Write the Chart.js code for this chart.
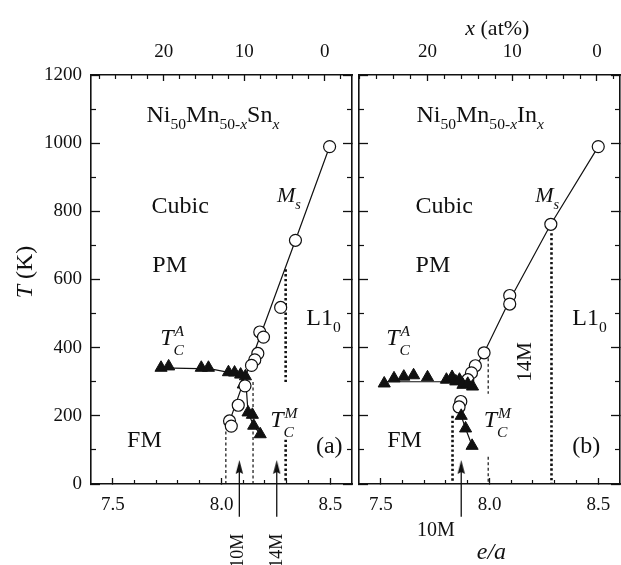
<!DOCTYPE html>
<html><head><meta charset="utf-8">
<style>
html,body{margin:0;padding:0;background:#fff;overflow:hidden;width:621px;height:565px;position:relative;}
canvas{position:absolute;top:0;}
#cA{left:0;}
#cB{left:349px;}
</style>
<script src="https://cdn.jsdelivr.net/npm/chart.js@4"></script>
</head><body>
<canvas id="cA" width="360" height="565"></canvas>
<canvas id="cB" width="279" height="565"></canvas>
<script>
// ---------- data ----------
const eaMin = 7.4, eaMax = 8.6;
const tMin = 0, tMax = 1200;
const eaMajorTicks = [7.5, 8.0, 8.5];
const eaMinorTicks = [7.6, 7.7, 7.8, 7.9, 8.1, 8.2, 8.3, 8.4];
const tMajorTicks = [0, 200, 400, 600, 800, 1000, 1200];
const tMinorTicks = [100, 300, 500, 700, 900, 1100];
const atMajorTicks = [0, 10, 20];
const atMinorTicks = [-2, 2, 4, 6, 8, 12, 14, 16, 18, 22, 24, 26, 28];
const snAtRange = [-3.39, 29.04];
const inAtRange = [-2.72, 28.08];

// Ni50Mn50-xSnx
const snMs = [[8.497,990],[8.34,715],[8.272,518],[8.176,446],[8.193,431],[8.167,383],[8.153,364],[8.138,348],[8.108,288],[8.077,231],[8.037,185],[8.045,170]];
const snMsLine = [[8.497,990],[8.34,715],[8.126,344],[8.035,180]];
const snTcA = [[7.722,341],[7.757,345],[7.907,341],[7.94,341],[8.032,328],[8.06,327],[8.088,321],[8.11,316]];
const snTcALine = [[7.722,341],[7.95,338],[8.11,318]];
const snTcM = [[8.1,292],[8.122,210],[8.142,203],[8.148,171],[8.178,146]];
const snTcMLine = [[8.11,318],[8.122,210],[8.148,171],[8.178,146]];
const snThinGuides = [[[8.02,0],[8.02,156]], [[8.145,0],[8.145,305]]];
const snBoldGuides = [[[8.295,630],[8.295,295]], [[8.295,130],[8.295,0]]];
const snArrowX = [8.082, 8.254];

// Ni50Mn50-xInx
const inMs = [[8.5,990],[8.282,762],[8.093,553],[8.093,528],[7.975,385],[7.935,347],[7.917,326],[7.9,306],[7.868,242],[7.86,226]];
const inMsLine = [[8.5,990],[8.282,762],[8.093,540],[7.975,385],[7.9,306]];
const inTcA = [[7.516,295],[7.561,310],[7.606,315],[7.651,319],[7.715,313],[7.802,306],[7.828,314],[7.845,301],[7.862,306],[7.878,291],[7.9,294],[7.922,286]];
const inTcALine = [[7.516,300],[7.93,300]];
const inTcM = [[7.87,200],[7.89,163],[7.92,112]];
const inTcMLine = [[7.86,245],[7.87,200],[7.89,163],[7.92,112]];
const inThinGuides = [[[7.994,385],[7.994,265]], [[7.994,80],[7.994,0]]];
const inBoldGuides = [[[7.83,200],[7.83,0]], [[8.285,736],[8.285,0]]];
const inArrowX = [7.87];

const arrowY = [-96, 50];

// ---------- annotations ----------
const FONT = 'Liberation Serif';
const INK = '#111';
Chart.defaults.font.family = FONT;
const formulaSn = [['Ni','r'],['50','sub'],['Mn','r'],['50-','sub'],['x','subi'],['Sn','r'],['x','subi']];
const formulaIn = [['Ni','r'],['50','sub'],['Mn','r'],['50-','sub'],['x','subi'],['In','r'],['x','subi']];
const snTexts = [
  {x:7.655, y:1062, size:24, runs:formulaSn},
  {x:7.678, y:795, size:24, runs:[['Cubic','r']]},
  {x:7.682, y:622, size:24, runs:[['PM','r']]},
  {x:8.255, y:826, size:22, runs:[['M','i'],['s','subi']]},
  {x:8.39, y:466, size:24, runs:[['L1','r'],['0','sub']]},
  {x:7.718, y:408, size:24, runs:[['T','i'],[['A','C'],'ss']]},
  {x:7.566, y:109, size:24, runs:[['FM','r']]},
  {x:8.224, y:167, size:24, runs:[['T','i'],[['M','C'],'ss']]},
  {x:8.434, y:91, size:24, runs:[['(a)','r']]},
  {x:8.072, y:-196, size:18, rot:-90, center:true, runs:[['10M','r']]},
  {x:8.251, y:-196, size:18, rot:-90, center:true, runs:[['14M','r']]},
  {x:7.091, y:622, size:24, rot:-90, center:true, runs:[['T','i'],[' (K)','r']]}
];
const inTexts = [
  {x:7.664, y:1062, size:24, runs:formulaIn},
  {x:7.66, y:795, size:24, runs:[['Cubic','r']]},
  {x:7.66, y:622, size:24, runs:[['PM','r']]},
  {x:8.21, y:826, size:22, runs:[['M','i'],['s','subi']]},
  {x:8.381, y:466, size:24, runs:[['L1','r'],['0','sub']]},
  {x:7.525, y:408, size:24, runs:[['T','i'],[['A','C'],'ss']]},
  {x:7.53, y:109, size:24, runs:[['FM','r']]},
  {x:7.973, y:167, size:24, runs:[['T','i'],[['M','C'],'ss']]},
  {x:8.381, y:91, size:24, runs:[['(b)','r']]},
  {x:8.161, y:358, size:21, rot:-90, center:true, runs:[['14M','r']]},
  {x:7.754, y:-132, size:20, center:true, runs:[['10M','r']]},
  {x:8.009, y:-197, size:24, center:true, runs:[['e/a','i']]},
  {x:8.036, y:1338, size:22, center:true, runs:[['x','i'],[' (at%)','r']]}
];

// ---------- helpers ----------
function fnt(it, sz){ return (it ? 'italic ' : '') + sz + 'px "' + FONT + '"'; }
function layoutRuns(ctx, runs, size){
  const items = []; let w = 0; const sm = size * 0.65;
  for (const [t, s] of runs) {
    if (s === 'ss') {
      const f = fnt(true, sm); ctx.font = f;
      const w1 = ctx.measureText(t[0]).width, w2 = ctx.measureText(t[1]).width;
      items.push({t:t[0], f, x:w+1, dy:-size*0.36});
      items.push({t:t[1], f, x:w, dy:size*0.42});
      w += Math.max(w1, w2) + 1;
    } else {
      const small = s.startsWith('sub') || s.startsWith('sup');
      const it = s === 'i' || s.endsWith('i');
      const f = fnt(it, small ? sm : size); ctx.font = f;
      const dy = s.startsWith('sub') ? size*0.3 : (s.startsWith('sup') ? -size*0.36 : 0);
      items.push({t, f, x:w, dy});
      w += ctx.measureText(t).width;
    }
  }
  return {items, w};
}
const textPlugin = {
  id: 'texts',
  afterDraw(chart, args, opts) {
    const ctx = chart.ctx, xs = chart.scales.x, ys = chart.scales.y;
    ctx.save();
    ctx.fillStyle = INK; ctx.textBaseline = 'alphabetic'; ctx.textAlign = 'left';
    for (const L of opts.items) {
      const px = xs.getPixelForValue(L.x), py = ys.getPixelForValue(L.y);
      const {items, w} = layoutRuns(ctx, L.runs, L.size);
      ctx.save();
      ctx.translate(px, py);
      if (L.rot) ctx.rotate(L.rot * Math.PI / 180);
      const ox = L.center ? -w/2 : 0, oy = L.center ? L.size*0.33 : 0;
      for (const it of items) { ctx.font = it.f; ctx.fillText(it.t, ox + it.x, oy + it.dy); }
      ctx.restore();
    }
    ctx.restore();
  }
};
function arrowHead(){
  const c = document.createElement('canvas'); c.width = 9; c.height = 14;
  const g = c.getContext('2d'); g.fillStyle = INK;
  g.beginPath(); g.moveTo(4.5,0); g.lineTo(8.2,14); g.lineTo(4.5,12); g.lineTo(0.8,14); g.closePath(); g.fill();
  return c;
}
const AH = arrowHead();
const pts = a => a.map(([x,y]) => ({x, y}));
const tickSet = vals => axis => { axis.ticks = vals.map(v => ({value: v})); };

function axisPair(pos, min, max, majors, minors, size, majLen, minLen, labels, padding, reverse, cb){
  const base = {type:'linear', position:pos, min, max, bounds:'data', reverse:!!reverse};
  const major = Object.assign({}, base, {
    weight: 0,
    afterBuildTicks: tickSet(majors),
    afterFit: a => { if (a.isHorizontal()) a.height = size; else a.width = size; },
    ticks: {display: labels, color: INK, padding, autoSkip:false, maxRotation:0, font:{family:FONT, size:19}, callback: cb},
    grid: {display:true, drawOnChartArea:false, drawTicks:true, tickLength:-majLen, tickColor:INK, tickWidth:1.3},
    border: {display:true, color:INK, width:1.6}
  });
  const minor = Object.assign({}, base, {
    weight: -1,
    afterBuildTicks: tickSet(minors),
    afterFit: a => { if (a.isHorizontal()) a.height = 0; else a.width = 0; },
    ticks: {display:false},
    grid: {display:true, drawOnChartArea:false, drawTicks:true, tickLength:-minLen, tickColor:INK, tickWidth:1.2},
    border: {display:false}
  });
  return [major, minor];
}

function build(id, cfg){
  const [x, xm] = axisPair('bottom', eaMin, eaMax, eaMajorTicks, eaMinorTicks, 81, 6, 4, true, 16, false, v => Number(v).toFixed(1));
  const [xt, xtm] = axisPair('top', cfg.at[0], cfg.at[1], atMajorTicks, atMinorTicks, 75, 6, 4, true, 18, true, v => String(v));
  const [y, ym] = axisPair('left', tMin, tMax, tMajorTicks, tMinorTicks, cfg.leftW, 9, 5, cfg.yLabels, 18, false, v => String(v));
  const [y2, y2m] = axisPair('right', tMin, tMax, tMajorTicks, tMinorTicks, 1, 9, 5, false, 0, false, v => String(v));
  const circ = d => ({data:pts(d), showLine:false, pointStyle:'circle', pointRadius:6, pointBorderWidth:1.2, pointBackgroundColor:'#fff', pointBorderColor:INK});
  const tri = d => ({data:pts(d), showLine:false, pointStyle:'triangle', pointRadius:7, pointBorderWidth:1, pointBackgroundColor:INK, pointBorderColor:INK});
  const line = d => ({data:pts(d), showLine:true, borderColor:INK, borderWidth:1.2, pointRadius:0, fill:false});
  const thin = d => ({data:pts(d), showLine:true, borderColor:INK, borderWidth:1.2, borderDash:[3,2.5], pointRadius:0, fill:false});
  const bold = d => ({data:pts(d), showLine:true, borderColor:INK, borderWidth:2.6, borderDash:[2.4,2.4], pointRadius:0, fill:false});
  const arrow = xv => ({data:[{x:xv, y:arrowY[0]}, {x:xv, y:arrowY[1]}], showLine:true, borderColor:INK, borderWidth:1.3, pointRadius:[0,5], pointStyle:AH, pointBorderWidth:0, clip:false});
  const marks = cfg.triOnTop
    ? [tri(cfg.tcA), tri(cfg.tcM), circ(cfg.ms)]
    : [circ(cfg.ms), tri(cfg.tcA), tri(cfg.tcM)];
  const datasets = [
    ...marks,
    line(cfg.msLine), line(cfg.tcALine), line(cfg.tcMLine),
    ...cfg.thin.map(thin), ...cfg.bold.map(bold),
    ...cfg.arrows.map(arrow)
  ];
  return new Chart(document.getElementById(id), {
    type: 'scatter',
    data: {datasets},
    options: {
      responsive:false, animation:false, events:[],
      layout:{padding:0},
      plugins:{legend:{display:false}, tooltip:{enabled:false}, texts:{items:cfg.texts}},
      scales:{x, xm, xt, xtm, y, ym, y2, y2m}
    },
    plugins:[textPlugin]
  });
}

build('cA', {at:snAtRange, leftW:91, yLabels:true, triOnTop:false,
  ms:snMs, msLine:snMsLine, tcA:snTcA, tcALine:snTcALine, tcM:snTcM, tcMLine:snTcMLine,
  thin:snThinGuides, bold:snBoldGuides, arrows:snArrowX, texts:snTexts});
build('cB', {at:inAtRange, leftW:10, yLabels:false, triOnTop:true,
  ms:inMs, msLine:inMsLine, tcA:inTcA, tcALine:inTcALine, tcM:inTcM, tcMLine:inTcMLine,
  thin:inThinGuides, bold:inBoldGuides, arrows:inArrowX, texts:inTexts});
</script>
</body></html>
